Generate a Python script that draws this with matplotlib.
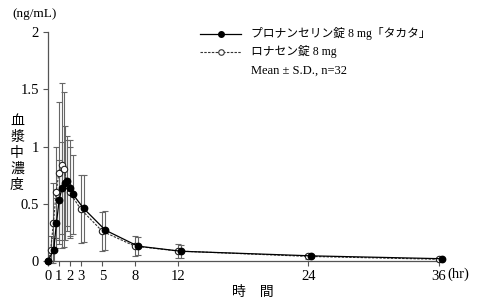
import numpy as np
import matplotlib
matplotlib.use("Agg")
import matplotlib.pyplot as plt

plt.rcParams['font.family'] = ['Liberation Serif', 'Noto Sans CJK JP', 'DejaVu Sans']

# Data (hours, ng/mL)
times = [0, 0.25, 0.5, 0.75, 1, 1.25, 1.5, 1.75, 2, 3, 5, 8, 12, 24, 36]
takata_mean = [0, 0.10, 0.33, 0.53, 0.635, 0.68, 0.70, 0.64, 0.585, 0.46, 0.27, 0.13, 0.085, 0.045, 0.02]
takata_sd = [0, 0.10, 0.22, 0.35, 0.40, 0.50, 0.39, 0.42, 0.345, 0.29, 0.17, 0.08, 0.055, 0.02, 0.01]
lonasen_mean = [0, 0.10, 0.335, 0.60, 0.77, 0.835, 0.80, 0.66, 0.60, 0.455, 0.26, 0.13, 0.087, 0.04, 0.015]
lonasen_sd = [0, 0.12, 0.35, 0.40, 0.62, 0.72, 0.68, 0.40, 0.40, 0.30, 0.17, 0.09, 0.058, 0.02, 0.01]

xticks = [0, 1, 2, 3, 5, 8, 12, 24, 36]
xticklabels = ['0', '1', '2', '3', '5', '8', '12', '24', '36']
yticks = [0, 0.5, 1, 1.5, 2]
yticklabels = ['0', '0.5', '1', '1.5', '2']

label_takata = 'プロナンセリン錠 8 mg「タカタ」'
label_lonasen = 'ロナセン錠 8 mg'
stat_text = 'Mean ± S.D., n=32'

W, H = 479, 302
fig = plt.figure(figsize=(W / 100, H / 100), dpi=100)
ax_left, ax_right, ax_top, ax_bottom = 48, 438.6, 32, 261
ax = fig.add_axes([ax_left / W, 1 - ax_bottom / H, (ax_right - ax_left) / W, (ax_bottom - ax_top) / H])
ax.set_xlim(0, 36)
ax.set_ylim(0, 2)

px_per_hr = (ax_right - ax_left) / 36.0
t = np.array(times, dtype=float)
t_black = np.where(t > 0, t + 3.0 / px_per_hr, t)

ebar_color = '#666666'
ax.errorbar(t, lonasen_mean, yerr=lonasen_sd, fmt='none', ecolor=ebar_color,
            elinewidth=0.8, capsize=2.2, capthick=0.8, clip_on=False, zorder=2)
ax.errorbar(t_black, takata_mean, yerr=takata_sd, fmt='none', ecolor=ebar_color,
            elinewidth=0.8, capsize=2.2, capthick=0.8, clip_on=False, zorder=2)
ax.plot(t, lonasen_mean, linestyle=(0, (2.2, 1.2)), color='#333333', linewidth=0.8,
        marker='o', markersize=4.6, markerfacecolor='white', markeredgecolor='#222222',
        markeredgewidth=0.8, clip_on=False, zorder=3)
ax.plot(t_black, takata_mean, linestyle='-', color='black', linewidth=0.9,
        marker='o', markersize=4.6, markerfacecolor='black', markeredgecolor='black',
        clip_on=False, zorder=4)

for s in ['top', 'right']:
    ax.spines[s].set_visible(False)
for s in ['left', 'bottom']:
    ax.spines[s].set_color('#555555')
    ax.spines[s].set_linewidth(0.9)

ax.set_xticks(xticks)
ax.set_xticklabels(xticklabels)
ax.set_yticks(yticks)
ax.set_yticklabels(yticklabels)
ax.tick_params(axis='both', direction='out', length=3.5, width=0.8, color='#555555',
               labelsize=10.5, pad=3)

# Text annotations
fig.text(12 / W, 1 - 14 / H, '(ng/mL)', fontsize=9.5, ha='left', va='center')
fig.text(17 / W, 1 - 153 / H, '血\n漿\n中\n濃\n度', fontsize=10, ha='center', va='center',
         linespacing=1.2, family=['Noto Sans CJK JP'])
fig.text(253 / W, 1 - 292 / H, '時　間', fontsize=10, ha='center', va='center',
         family=['Noto Sans CJK JP'])
fig.text(447 / W, 1 - 274.5 / H, '(hr)', fontsize=10.5, ha='left', va='center')

# Legend (manual)
ly1, ly2, ly3 = 34, 52, 71
fig.add_artist(plt.Line2D([200 / W, 241 / W], [1 - ly1 / H, 1 - ly1 / H], color='black', lw=0.9,
                          transform=fig.transFigure))
fig.add_artist(plt.Line2D([221 / W], [1 - ly1 / H], marker='o', markersize=4, color='black',
                          transform=fig.transFigure))
fig.add_artist(plt.Line2D([200 / W, 241 / W], [1 - ly2 / H, 1 - ly2 / H], color='#333333', lw=0.8,
                          linestyle=(0, (2.2, 1.2)), transform=fig.transFigure))
fig.add_artist(plt.Line2D([221 / W], [1 - ly2 / H], marker='o', markersize=4, color='#333333',
                          markerfacecolor='white', markeredgewidth=0.8, transform=fig.transFigure))
fig.text(251 / W, 1 - ly1 / H, label_takata, fontsize=8.5, ha='left', va='center')
fig.text(251 / W, 1 - ly2 / H, label_lonasen, fontsize=8.5, ha='left', va='center')
fig.text(251 / W, 1 - ly3 / H, stat_text, fontsize=9, ha='left', va='center')

fig.savefig('out.png', dpi=100)
